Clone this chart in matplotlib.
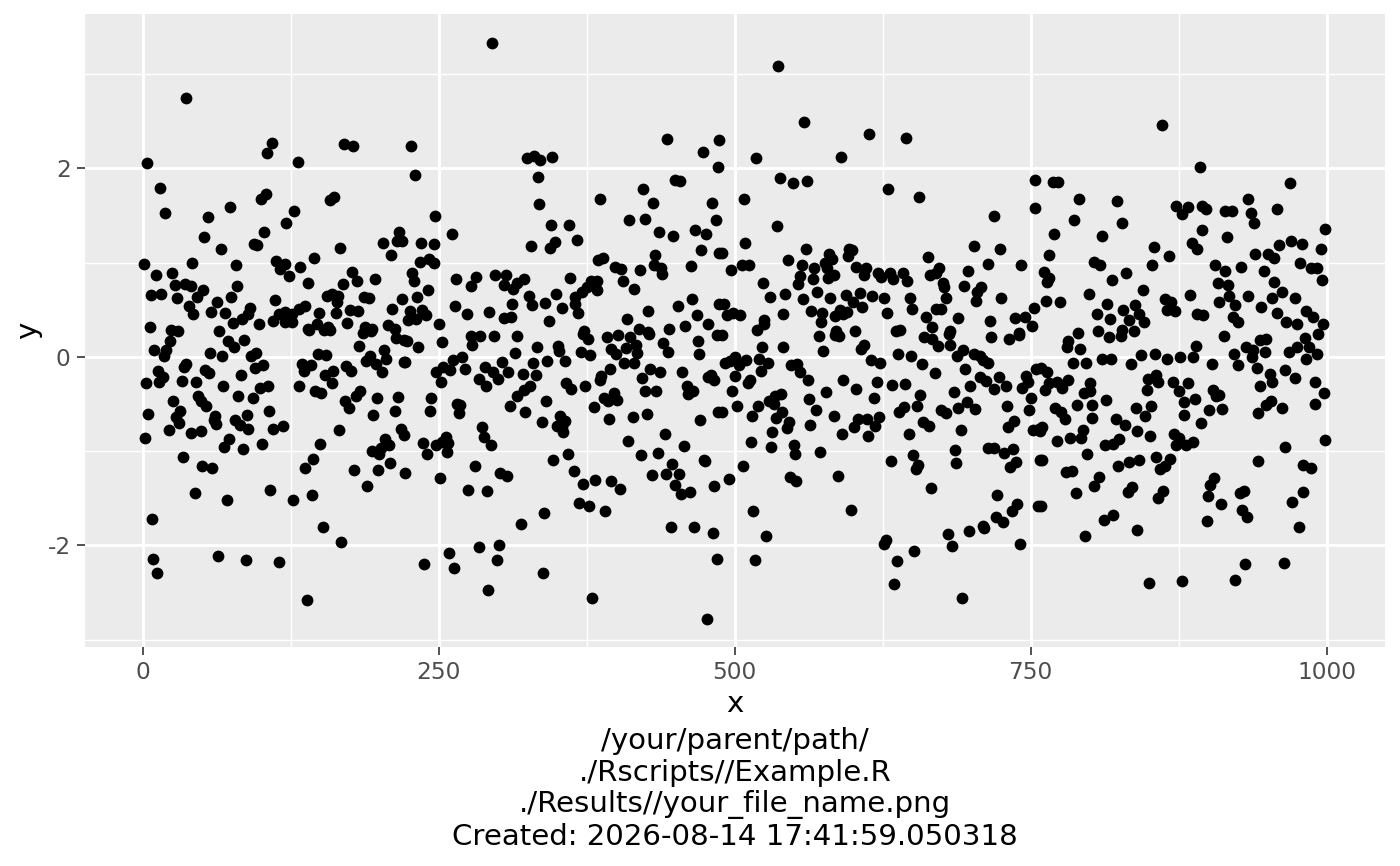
import matplotlib
matplotlib.use("Agg")
import matplotlib.pyplot as plt

plt.rcParams['font.family'] = 'DejaVu Sans'
plt.rcParams['axes.unicode_minus'] = False

x_ticks = [0, 250, 500, 750, 1000]
x_minor = [125, 375, 625, 875]
y_ticks = [-2, 0, 2]
y_minor = [-3, -1, 1, 3]
caption = ["/your/parent/path/", "./Rscripts//Example.R", "./Results//your_file_name.png",
           "Created: 2026-08-14 17:41:59.050318"]

points_a = [(37,2.75),(4,2.06),(109,2.27),(105,2.16),(131,2.07),(170,2.26),(178,2.24),(15,1.79),(19,1.53),(104,1.73),
(100,1.67),(74,1.59),(55,1.48),(158,1.66),(162,1.70),(128,1.55),(121,1.42),(103,1.32),(52,1.27),(66,1.15),(94,1.20),
(97,1.19),(167,1.16),(203,1.21),(210,1.08),(217,1.33),(215,1.23),(219,1.23),(1,0.99),(42,1.00),(79,0.97),(113,1.02),
(120,0.99),(116,0.93),(133,0.95),(145,1.05),(124,0.86),(11,0.87),(25,0.89),(27,0.76),(36,0.77),(41,0.75),(51,0.71),
(46,0.64),(7,0.66),(16,0.67),(29,0.63),(80,0.75),(75,0.64),(140,0.78),(177,0.90),(181,0.80),(196,0.83),(169,0.77),
(156,0.65),(160,0.67),(165,0.65),(164,0.58),(187,0.64),(191,0.63),(219,0.61),(112,0.60),(39,0.54),(43,0.46),(63,0.58),
(58,0.48),(70,0.47),(91,0.52),(89,0.46),(84,0.40),(76,0.36),(98,0.35),(137,0.54),(132,0.51),(149,0.47),(163,0.47),
(175,0.50),(182,0.49),(211,0.51),(173,0.36),(110,0.38),(115,0.46),(120,0.48),(126,0.46),(120,0.37),(126,0.37),(6,0.32),
(24,0.28),(30,0.27),(65,0.27),(147,0.35),(157,0.32),(140,0.30),(188,0.32),(194,0.30),(207,0.34),(213,0.30)]

points_b = [(23,.17),(10,.07),(20,.07),(18,.01),(57,.04),(67,.01),(72,.17),(77,.10),(86,.18),(92,.01),(96,.04),(102,-.09),
(95,-.12),(37,-.08),(35,-.11),(53,-.14),(56,-.17),(83,-.19),(13,-.15),(17,-.21),(14,-.27),(3,-.28),(33,-.26),(45,-.27),
(68,-.31),(99,-.33),(106,-.31),(81,-.42),(93,-.44),(26,-.47),(47,-.41),(49,-.47),(54,-.52),(32,-.57),(5,-.61),(28,-.64),
(31,-.70),(61,-.63),(60,-.67),(62,-.71),(78,-.67),(82,-.72),(88,-.62),(89,-.77),(107,-.57),(110,-.77),(119,-.73),(22,-.78),
(41,-.81),(49,-.79),(2,-.86),(73,-.87),(69,-.96),(85,-.98),(101,-.92),(34,-1.06),(50,-1.16),(59,-1.18),(44,-1.44),
(71,-1.52),(108,-1.41),(127,-1.52),(143,-1.47),(8,-1.72),(64,-2.11),(87,-2.15),(115,-2.18),(9,-2.14),(12,-2.29),
(139,-2.58),(152,-1.81),(168,-1.96),(137,-1.18),(144,-1.08),(150,-.92),(166,-.78),(132,-.31),(146,-.36),(151,-.38),
(160,-.28),(154,-.19),(161,-.15),(135,-.08),(136,-.15),(142,-.09),(148,.03),(155,.02),(172,-.10),(176,-.15),(141,.28),
(153,.28),(158,.28),(186,.25),(193,.27),(183,.12),(204,.07),(206,-.02),(214,.20),(192,.01),(189,-.04),(197,-.08),
(202,-.16),(221,.18),(221,-.05),(184,-.36),(180,-.42),(171,-.47),(174,-.54),(198,-.44),(216,-.43),(213,-.57),(195,-.62),
(218,-.76),(221,-.83),(205,-.87),(208,-.93),(201,-.97),(194,-1.00),(200,-1.03),(209,-1.13),(199,-1.20),(179,-1.20),
(190,-1.37),(222,-1.23)]

points_c = [(295,3.33),(227,2.24),(230,1.93),(325,2.11),(331,2.13),(336,2.09),(346,2.12),(334,1.91),(335,1.62),(386,1.68),
(443,2.31),(473,2.17),(487,2.30),(486,2.02),(423,1.78),(431,1.63),(450,1.88),(454,1.87),(481,1.63),(484,1.45),(247,1.49),
(261,1.30),(235,1.21),(246,1.20),(345,1.40),(360,1.40),(328,1.18),(348,1.22),(344,1.16),(367,1.24),(411,1.45),(424,1.46),
(436,1.33),(448,1.28),(467,1.35),(476,1.30),(472,1.13),(487,1.10),(234,1.01),(242,1.04),(246,1.00),(228,.89),(229,.80),
(241,.71),(232,.64),(265,.83),(282,.85),(277,.75),(298,.87),(307,.87),(305,.76),(322,.83),(316,.78),(313,.72),(326,.65),
(329,.55),(312,.56),(264,.54),(274,.45),(293,.48),(305,.41),(311,.42),(340,.57),(349,.67),(361,.84),(354,.52),(365,.64),
(371,.69),(375,.74),(379,.80),(384,.80),(384,.71),(365,.56),(368,.47),(343,.38),(385,1.03),(389,1.05),(399,.95),(404,.93),
(406,.80),(415,.72),(420,.92),(433,1.08),(432,.97),(438,.94),(439,.88),(463,.96),(464,.61),(452,.54),(468,.44),(427,.49),
(409,.40),(478,.35),(487,.56),(419,.30),(445,.30),(458,.33),(226,.49),(236,.50),(239,.44),(224,.39),(231,.40),(250,.35),
(427,.26),(373,.27)]

points_d = [(223,.17),(233,.11),(222,-.05),(253,.16),(277,.22),(285,.22),(297,.22),(278,.13),(316,.22),(315,.04),(333,.10),
(351,.12),(352,.06),(370,.05),(378,.02),(372,.24),(376,.19),(392,.21),(402,.23),(412,.21),(417,.13),(396,.08),(400,.03),
(408,.09),(418,.04),(407,-.06),(415,-.06),(428,.24),(440,.15),(444,.05),(469,.17),(470,.03),(485,.23),(262,-.03),(270,0),
(272,-.13),(254,-.11),(248,-.16),(260,-.14),(252,-.27),(289,-.11),(296,-.16),(300,-.23),(284,-.23),(290,-.31),(304,-.05),
(309,-.16),(321,-.18),(330,-.06),(342,-.04),(357,-.04),(332,-.19),(327,-.31),(322,-.35),(316,-.41),(310,-.52),(323,-.59),
(341,-.47),(358,-.28),(362,-.34),(374,-.31),(395,-.13),(387,-.20),(386,-.24),(422,-.22),(429,-.13),(437,-.16),(456,-.16),
(424,-.36),(434,-.36),(478,-.21),(480,-.19),(483,-.25),(460,-.31),(465,-.36),(461,-.39),(390,-.44),(393,-.47),(398,-.38),
(401,-.46),(381,-.53),(394,-.66),(414,-.64),(426,-.61),(471,-.67),(486,-.58),(244,-.44),(243,-.57),(266,-.50),(268,-.51),
(267,-.60),(337,-.69),(353,-.63),(357,-.68),(350,-.73),(354,-.74),(355,-.80),(287,-.74),(288,-.85),(294,-.94),(256,-.85),
(258,-.91),(253,-.90),(248,-.94),(257,-1.01),(237,-.91),(240,-1.03),(441,-.82),(410,-.89),(457,-.95),(421,-1.04),(435,-1.02),
(359,-1.03),(347,-1.09),(364,-1.21),(281,-1.16),(302,-1.23),(308,-1.26),(251,-1.29),(275,-1.41),(291,-1.42),(372,-1.35),
(382,-1.31),(396,-1.32),(403,-1.40),(369,-1.55),(377,-1.58),(391,-1.64),(339,-1.66),(320,-1.77),(284,-2.02),(301,-2.00),
(259,-2.08),(299,-2.15),(238,-2.20),(263,-2.24),(338,-2.29),(292,-2.47),(380,-2.56),(477,-2.78),(446,-1.81),(466,-1.81),
(482,-1.87),(485,-2.14),(474,-1.09),(475,-1.10),(447,-1.14),(442,-1.24),(453,-1.24),(430,-1.25),(450,-1.36),(455,-1.45),
(462,-1.43),(483,-1.37)]

points_e = [(537,3.09),(559,2.49),(614,2.36),(645,2.32),(518,2.11),(590,2.12),(538,1.90),(549,1.85),(561,1.87),(630,1.78),
(656,1.70),(508,1.68),(754,1.88),(754,1.58),(719,1.49),(536,1.39),(509,1.21),(489,1.10),(560,1.15),(597,1.15),(599,1.13),
(596,1.07),(702,1.18),(724,1.15),(663,1.06),(714,.99),(742,.97),(545,1.03),(506,.98),(512,.97),(497,.92),(557,.97),
(580,1.09),(576,1.00),(582,1.04),(567,.94),(578,.94),(603,.95),(611,.94),(609,.87),(621,.89),(624,.85),(631,.89),(634,.83),
(642,.89),(646,.80),(673,.94),(670,.89),(665,.87),(697,.91),(676,.78),(677,.74),(708,.74),(694,.75),(555,.86),(566,.83),
(579,.84),(584,.87),(554,.77),(524,.78),(543,.67),(530,.64),(570,.69),(558,.61),(581,.63),(594,.66),(606,.68),(616,.65),
(600,.58),(608,.53),(626,.63),(648,.62),(650,.51),(679,.63),(705,.69),(704,.59),(725,.63),(670,.51),(674,.51),(662,.42),
(689,.41),(716,.38),(737,.41),(745,.42),(753,.52),(541,.46),(565,.49),(574,.47),(573,.37),(589,.50),(595,.48),(585,.43),
(592,.46),(629,.47),(491,.56),(494,.44),(499,.47),(505,.44),(525,.39),(525,.35),(519,.28),(751,.33),(667,.32),(586,.27),
(602,.27),(636,.27),(640,.28),(682,.27),(740,.25)]

points_f = [(489,.23),(571,.22),(585,.23),(588,.22),(541,.10),(523,.10),(521,-.02),(528,-.06),(575,.06),(609,.13),(607,.08),
(638,.03),(649,.01),(615,-.03),(623,-.07),(658,-.08),(660,.21),(667,.19),(672,.12),(681,.24),(682,.13),(717,.21),(732,.19),
(740,.23),(688,.01),(693,.07),(702,.03),(707,.01),(710,-.03),(714,-.06),(492,-.06),(496,-.04),(500,0),(504,-.09),(510,-.03),
(522,-.15),(500,-.20),(513,-.24),(511,-.28),(548,-.09),(553,-.08),(555,-.16),(562,-.24),(695,-.13),(669,-.17),(592,-.25),
(620,-.27),(603,-.34),(633,-.30),(644,-.29),(707,-.21),(712,-.26),(723,-.21),(729,-.31),(719,-.34),(699,-.31),(755,-.13),
(746,-.20),(748,-.27),(743,-.33),(498,-.36),(577,-.37),(539,-.39),(534,-.41),(529,-.47),(533,-.50),(657,-.40),(685,-.37),
(618,-.44),(563,-.45),(750,-.44),(489,-.58),(502,-.52),(520,-.52),(515,-.63),(540,-.58),(535,-.65),(569,-.56),(584,-.63),
(546,-.69),(544,-.75),(564,-.72),(639,-.58),(643,-.53),(654,-.52),(674,-.56),(679,-.60),(689,-.54),(696,-.48),(703,-.55),
(730,-.52),(749,-.56),(604,-.66),(612,-.66),(622,-.64),(619,-.73),(601,-.74),(659,-.69),(664,-.73),(736,-.68),(731,-.74),
(752,-.78),(757,-.76),(532,-.80),(591,-.82),(613,-.84),(647,-.82),(691,-.78),(514,-.90),(531,-.96),(550,-.93),(551,-1.03),
(572,-1.01),(686,-.99),(651,-1.04),(714,-.97),(719,-.97),(735,-.98),(728,-1.02),(632,-1.10),(687,-1.13),(758,-1.09),
(738,-1.12),(733,-1.17),(655,-1.15),(653,-1.19),(507,-1.16),(495,-1.30),(587,-1.26),(547,-1.27),(552,-1.32),(666,-1.39),
(722,-1.47),(739,-1.56),(734,-1.63),(756,-1.58),(516,-1.63),(598,-1.62),(721,-1.70),(727,-1.75),(710,-1.79),(711,-1.82),
(698,-1.85),(680,-1.88),(527,-1.90),(628,-1.94),(626,-1.99),(684,-2.01),(741,-1.98),(652,-2.06),(517,-2.15),(637,-2.17),
(635,-2.41),(692,-2.56)]

points_g = [(861,2.46),(893,2.02),(769,1.86),(773,1.86),(791,1.68),(823,1.65),(969,1.85),(873,1.60),(878,1.52),(883,1.59),
(895,1.60),(898,1.57),(914,1.55),(920,1.55),(934,1.67),(936,1.53),(939,1.42),(958,1.57),(787,1.45),(827,1.42),(895,1.35),
(916,1.27),(770,1.30),(810,1.28),(999,1.36),(854,1.17),(867,1.07),(886,1.21),(891,1.15),(940,1.09),(951,1.09),(956,1.05),
(960,1.19),(970,1.23),(979,1.20),(995,1.14),(766,1.08),(804,1.01),(809,.97),(853,.97),(906,.97),(914,.91),(928,.95),
(978,1.00),(987,.94),(992,.94),(947,.91),(996,.82),(831,.89),(819,.82),(761,.90),(766,.84),(764,.79),(908,.78),(917,.76),
(956,.79),(962,.69),(954,.63),(799,.67),(845,.71),(885,.66),(918,.65),(934,.65),(973,.62),(763,.59),(775,.58),(864,.61),
(869,.58),(865,.50),(872,.49),(815,.56),(838,.55),(828,.50),(842,.46),(806,.45),(817,.40),(909,.58),(923,.55),(945,.53),
(958,.47),(983,.49),(989,.42),(997,.35),(891,.46),(896,.44),(921,.42),(925,.37),(966,.37),(975,.35),(833,.39),(846,.37),
(837,.27),(827,.28),(826,.22),(807,.27),(816,.21),(790,.25),(782,.17),(781,.10),(792,.08),(913,.22),(944,.18),(949,.19),
(993,.24),(982,.20),(890,.12),(932,.10),(938,.07),(975,.10),(968,.05),(985,.10),(948,.05),(992,.03),(922,.03),(855,.03),
(843,.02),(810,-.02),(876,0),(887,0),(865,-.02),(818,-.02),(983,-.02),(937,0)]

points_h = [(786,-.07),(797,-.07),(835,-.08),(903,-.08),(925,-.09),(941,-.12),(965,-.14),(764,-.16),(759,-.12),(782,-.24),
(766,-.28),(772,-.27),(777,-.33),(762,-.35),(800,-.28),(795,-.38),(800,-.36),(849,-.23),(856,-.19),(858,-.27),(848,-.35),
(870,-.27),(883,-.28),(875,-.36),(952,-.18),(954,-.27),(944,-.31),(973,-.22),(990,-.27),(998,-.38),(904,-.35),(907,-.42),
(909,-.40),(889,-.45),(880,-.48),(901,-.56),(912,-.55),(880,-.62),(894,-.70),(942,-.60),(949,-.51),(953,-.47),(962,-.54),
(990,-.50),(814,-.46),(789,-.51),(802,-.51),(771,-.54),(776,-.58),(779,-.66),(802,-.65),(839,-.54),(852,-.52),(847,-.63),
(822,-.66),(830,-.72),(840,-.79),(851,-.84),(760,-.74),(758,-.79),(794,-.78),(783,-.86),(793,-.86),(772,-.89),(825,-.87),
(820,-.92),(813,-.93),(871,-.82),(875,-.86),(873,-.93),(881,-.93),(887,-.90),(798,-1.03),(760,-1.09),(856,-1.06),(868,-1.08),
(842,-1.09),(833,-1.11),(824,-1.16),(864,-1.16),(859,-1.19),(780,-1.22),(785,-1.21),(808,-1.27),(804,-1.37),(788,-1.44),
(836,-1.38),(832,-1.43),(862,-1.42),(858,-1.50),(759,-1.58),(820,-1.68),(812,-1.73),(840,-1.84),(796,-1.90),(850,-2.40),
(878,-2.38),(942,-1.10),(965,-.96),(999,-.88),(980,-1.15),(987,-1.18),(905,-1.28),(902,-1.36),(900,-1.48),(911,-1.56),
(927,-1.44),(930,-1.42),(929,-1.62),(933,-1.70),(899,-1.74),(971,-1.54),(980,-1.43),(977,-1.80),(931,-2.20),(964,-2.19),
(923,-2.37)]

all_points = points_a + points_b + points_c + points_d + points_e + points_f + points_g + points_h
x_values = [p[0] for p in all_points]
y_values = [p[1] for p in all_points]

W, H = 1400, 866
fig = plt.figure(figsize=(7, 4.33), dpi=200, facecolor='white')
ax = fig.add_axes([85/W, 1 - 647/H, 1300/W, 633/H], facecolor='#EBEBEB')
ax.set_xlim(-48.6, 1049.4)
ax.set_ylim(-3.078, 3.638)
for s in ax.spines.values():
    s.set_visible(False)
ax.set_axisbelow(True)
ax.set_xticks(x_ticks)
ax.set_yticks(y_ticks)
ax.set_xticks(x_minor, minor=True)
ax.set_yticks(y_minor, minor=True)
ax.grid(True, which='major', color='white', lw=1.07)
ax.grid(True, which='minor', color='white', lw=0.53)
ax.tick_params(axis='both', which='major', length=2.75, width=0.6, color='#333333',
               labelcolor='#4D4D4D', labelsize=8.4, pad=2.4)
ax.tick_params(axis='both', which='minor', length=0)
ax.scatter(x_values, y_values, s=18, c='black', linewidths=0, zorder=3)
ax.set_xlabel('x', fontsize=10.56, labelpad=2.2)
ax.set_ylabel('y', fontsize=10.56, labelpad=2.0)
fig.text(735/W, 1 - 789/H, "\n".join(caption), fontsize=10.56, ha='center', va='center',
         linespacing=1.17, color='black')
fig.savefig('out.png', dpi=200)
